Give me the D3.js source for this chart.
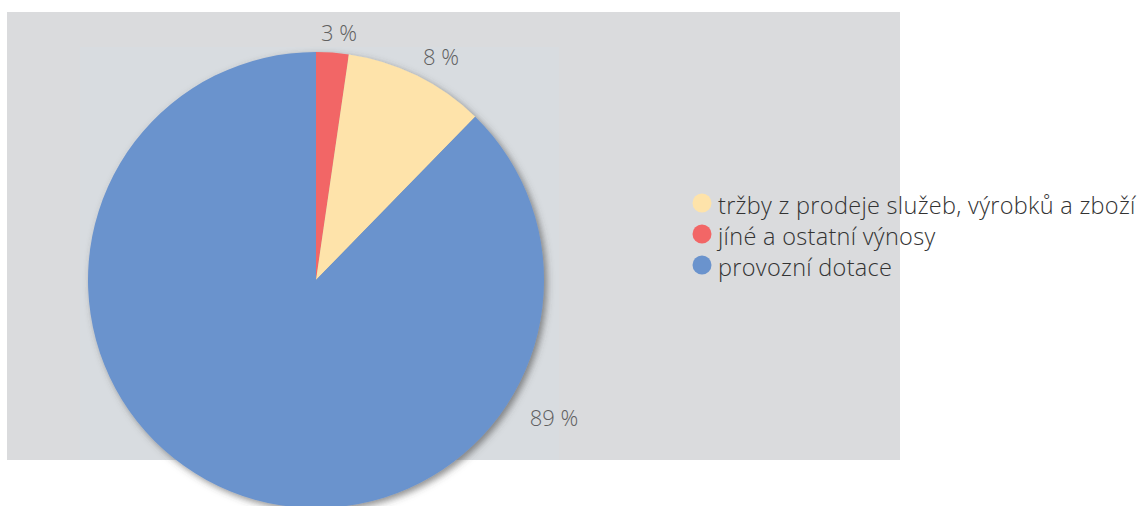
<!DOCTYPE html>
<html><head><meta charset="utf-8">
<script src="https://cdn.jsdelivr.net/npm/d3@7/dist/d3.min.js"></script>
<style>body{margin:0;background:#fff}svg{display:block}</style>
</head><body>
<svg id="c" width="1137" height="506"></svg>
<script>
// Legend order
const categories = ["tržby z prodeje služeb, výrobků a zboží", "jíné a ostatní výnosy", "provozní dotace"];
const values = [10, 2.3, 87.7];          // slice shares
const labels = ["8 %", "3 %", "89 %"];   // printed labels
const colors = ["#fee3aa", "#f26666", "#6a93cd"];
const pieOrder = [1, 0, 2];              // clockwise from 12 o'clock

const svg = d3.select("#c");
const cx = 316, cy = 280, R = 228;
const FONT = "'Open Sans', 'Noto Sans', sans-serif";

const defs = svg.append("defs");
const f = defs.append("filter").attr("id", "sh").attr("x", "-10%").attr("y", "-10%").attr("width", "130%").attr("height", "130%");
f.append("feDropShadow").attr("dx", 3).attr("dy", 3).attr("stdDeviation", 3.5).attr("flood-color", "#444").attr("flood-opacity", 0.6);

svg.append("rect").attr("x", 7).attr("y", 12).attr("width", 893).attr("height", 448).attr("fill", "#dadbdd");
svg.append("rect").attr("x", 80).attr("y", 47).attr("width", 479).attr("height", 413).attr("fill", "#d8dce0");

const data = pieOrder.map(i => ({i, v: values[i]}));
const pie = d3.pie().sort(null).value(d => d.v);
const arcs = pie(data);
const arc = d3.arc().innerRadius(0).outerRadius(R);

const g = svg.append("g").attr("transform", `translate(${cx},${cy})`);
g.append("g").attr("filter", "url(#sh)")
  .selectAll("path").data(arcs).join("path")
  .attr("d", arc).attr("fill", d => colors[d.data.i]);

// labels
const labelPos = {0: [441, 65], 1: [339, 41], 2: [554, 426]};
svg.selectAll("text.lbl").data(arcs).join("text").attr("class", "lbl")
  .attr("x", d => labelPos[d.data.i][0]).attr("y", d => labelPos[d.data.i][1])
  .attr("text-anchor", "middle")
  .attr("font-family", FONT).attr("font-weight", 300)
  .attr("font-size", 22).attr("fill", "#606060")
  .text(d => labels[d.data.i]);

// legend
const lg = svg.append("g").attr("transform", "translate(702,203)");
const item = lg.selectAll("g").data(categories).join("g")
  .attr("transform", (d, i) => `translate(0,${i * 31})`);
item.append("circle").attr("cx", 0).attr("cy", 0).attr("r", 9.5).attr("fill", (d, i) => colors[i]);
item.append("text").attr("x", 16).attr("y", 11)
  .attr("font-family", FONT).attr("font-weight", 300)
  .attr("font-size", 23.5).attr("letter-spacing", 0.3).attr("fill", "#333")
  .text(d => d);
</script>
</body></html>
